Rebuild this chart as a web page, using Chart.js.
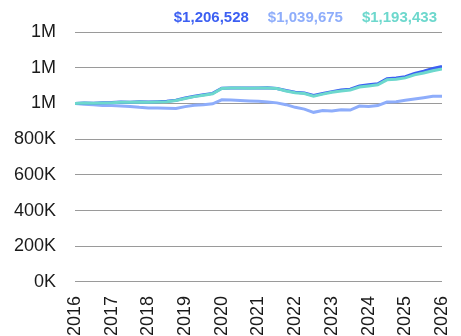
<!DOCTYPE html>
<html lang="en">
<head>
  <meta charset="UTF-8" />
  <title>Portfolio value</title>
  <script src="https://cdn.jsdelivr.net/npm/chart.js@4.4.1/dist/chart.umd.min.js"></script>
  <style>
    body { margin: 0; background: #fff; }
    #wrap { width: 461px; height: 336px; }
  </style>
</head>
<body>
  <div id="wrap"><canvas id="chart"></canvas></div>
  <script>
    // quarter dates (decimal years)
    var dates = [
      2016.00, 2016.25, 2016.50, 2016.75, 2017.00, 2017.25, 2017.50, 2017.75,
      2018.00, 2018.25, 2018.50, 2018.75, 2019.00, 2019.25, 2019.50, 2019.75,
      2020.00, 2020.25, 2020.50, 2020.75, 2021.00, 2021.25, 2021.50, 2021.75,
      2022.00, 2022.25, 2022.50, 2022.75, 2023.00, 2023.25, 2023.50, 2023.75,
      2024.00, 2024.25, 2024.50, 2024.75, 2025.00, 2025.25, 2025.50, 2025.75,
      2026.00
    ];
    var seriesA = [
      1000000, 1003000, 1001000, 1004000, 1005000, 1008000, 1006000, 1009000,
      1008000, 1010000, 1012000, 1018000, 1030000, 1040000, 1048000, 1056000,
      1085000, 1086000, 1087000, 1086000, 1087000, 1088000, 1084000, 1072000,
      1062000, 1058000, 1044000, 1056000, 1066000, 1075000, 1080000, 1098000,
      1104000, 1110000, 1138000, 1142000, 1150000, 1168000, 1180000, 1196000,
      1206528
    ];
    var seriesB = [
      1000000, 996000, 992000, 989000, 988000, 986000, 983000, 978000,
      975000, 974000, 973000, 972000, 982000, 990000, 993000, 998000,
      1020000, 1019000, 1017000, 1014000, 1012000, 1008000, 1003000, 993000,
      978000, 968000, 950000, 960000, 958000, 965000, 963000, 985000,
      983000, 988000, 1008000, 1010000, 1018000, 1025000, 1032000, 1040000,
      1039675
    ];
    var seriesC = [
      1000000, 1002000, 1001000, 1003000, 1004000, 1007000, 1006000, 1008000,
      1007000, 1008000, 1010000, 1016000, 1028000, 1038000, 1046000, 1054000,
      1084000, 1086000, 1086000, 1085000, 1087000, 1087000, 1083000, 1070000,
      1060000, 1055000, 1040000, 1052000, 1062000, 1070000, 1075000, 1092000,
      1098000, 1104000, 1132000, 1135000, 1143000, 1160000, 1170000, 1183000,
      1193433
    ];
    var colors = ["#3c5ff2", "#8eadfb", "#6dd8cd"];
    var yTicks = [0, 200000, 400000, 600000, 800000, 1000000, 1200000, 1400000];

    function pts(vals) {
      return vals.map(function (v, i) { return { x: dates[i], y: v }; });
    }

    // final values printed above the plot, right aligned
    var endLabels = {
      id: "endLabels",
      afterDraw: function (chart) {
        var c = chart.ctx;
        var x = chart.chartArea.right - 5;
        c.save();
        c.font = "bold 15px 'Liberation Sans', Arial, sans-serif";
        c.textAlign = "right";
        c.textBaseline = "middle";
        for (var i = chart.data.datasets.length - 1; i >= 0; i--) {
          var ds = chart.data.datasets[i];
          var last = ds.data[ds.data.length - 1].y;
          var txt = "$" + Math.round(last).toLocaleString("en-US");
          c.fillStyle = ds.borderColor;
          c.fillText(txt, x, 18);
          x -= c.measureText(txt).width + 19;
        }
        c.restore();
      }
    };

    Chart.defaults.font.family = "'Liberation Sans', Arial, sans-serif";
    Chart.defaults.color = "#1a1a1a";

    new Chart(document.getElementById("chart"), {
      type: "line",
      data: {
        datasets: [
          { data: pts(seriesA), borderColor: colors[0], order: 1 },
          { data: pts(seriesB), borderColor: colors[1], order: 2 },
          { data: pts(seriesC), borderColor: colors[2], order: 0 }
        ]
      },
      options: {
        responsive: true,
        maintainAspectRatio: false,
        animation: false,
        layout: { padding: { top: 32, right: 19, bottom: -14, left: 0 } },
        elements: {
          point: { radius: 0 },
          line: { borderWidth: 3, tension: 0 }
        },
        plugins: {
          legend: { display: false },
          tooltip: { enabled: false }
        },
        scales: {
          x: {
            type: "linear",
            min: 2016,
            max: 2026,
            grid: { display: false, drawTicks: false },
            border: { display: false },
            afterFit: function (scale) {
              scale.paddingRight = 0;
              scale.paddingLeft = 0;
            },
            ticks: {
              stepSize: 1,
              minRotation: 90,
              maxRotation: 90,
              padding: 14,
              font: { size: 18 },
              callback: function (v) { return String(v); }
            }
          },
          y: {
            min: 0,
            max: 1400000,
            afterBuildTicks: function (axis) {
              axis.ticks = yTicks.map(function (v) { return { value: v }; });
            },
            afterFit: function (scale) {
              scale.width = 75;
            },
            grid: { color: "#9a9a9a", lineWidth: 1, drawTicks: false },
            border: { display: false },
            ticks: {
              padding: 19,
              font: { size: 18 },
              callback: function (v) {
                return v >= 1000000 ? Math.round(v / 1000000) + "M" : Math.round(v / 1000) + "K";
              }
            }
          }
        }
      },
      plugins: [endLabels]
    });
  </script>
</body>
</html>
